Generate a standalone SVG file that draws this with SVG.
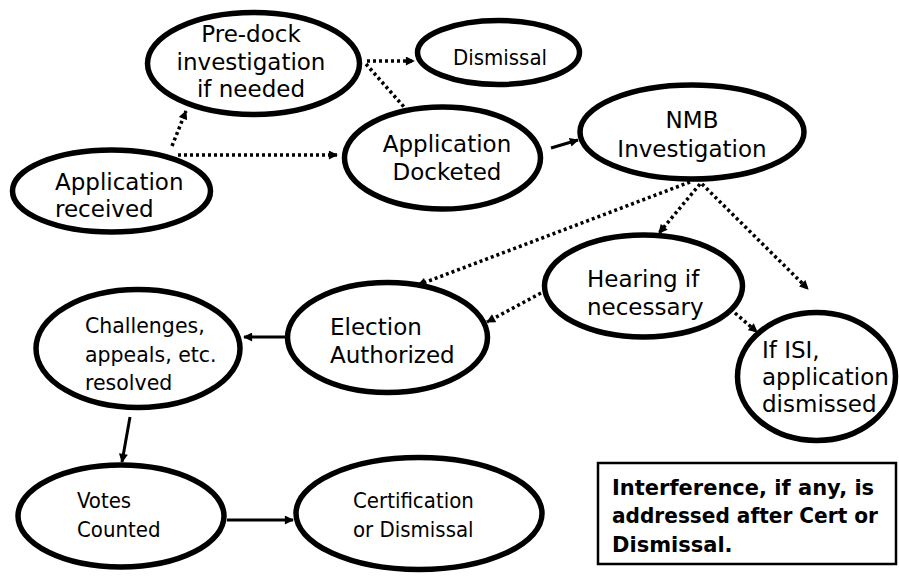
<svg xmlns="http://www.w3.org/2000/svg" width="899" height="576" viewBox="0 0 899 576">
<defs>
<style>
.node ellipse{fill:#fff;stroke:#000;stroke-width:5.5}
.t{font-family:"DejaVu Sans","Verdana",sans-serif;font-size:23px;fill:#000}
.tc{font-family:"DejaVu Sans","Verdana",sans-serif;font-stretch:condensed;font-size:22px;fill:#000}
.tb{font-family:"DejaVu Sans","Verdana",sans-serif;font-weight:bold;font-size:21px;fill:#000}
.dot{stroke:#000;stroke-width:3.5;stroke-dasharray:3 3;fill:none}
.sol{stroke:#000;stroke-width:3;fill:none}
</style>
<marker id="ah" viewBox="0 0 10 10" refX="9" refY="5" markerWidth="10" markerHeight="9" markerUnits="userSpaceOnUse" orient="auto">
<path d="M0,0 L10,5 L0,10 z" fill="#000"/>
</marker>
</defs>
<rect width="899" height="576" fill="#fff"/>
<g id="connectors">
<line class="dot" x1="172" y1="146" x2="186" y2="111" marker-end="url(#ah)"/>
<line class="dot" x1="178" y1="155" x2="337" y2="155" marker-end="url(#ah)"/>
<line class="dot" x1="367" y1="61" x2="414" y2="61" marker-end="url(#ah)"/>
<line class="dot" x1="366" y1="64" x2="404" y2="107"/>
<line class="sol" x1="551" y1="148" x2="578" y2="140" marker-end="url(#ah)"/>
<line class="dot" x1="690" y1="182" x2="418" y2="285" marker-end="url(#ah)"/>
<line class="dot" x1="700" y1="184" x2="659" y2="233" marker-end="url(#ah)"/>
<line class="dot" x1="702" y1="184" x2="808" y2="289" marker-end="url(#ah)"/>
<line class="dot" x1="541" y1="293" x2="487" y2="322" marker-end="url(#ah)"/>
<line class="dot" x1="735" y1="313" x2="757" y2="332" marker-end="url(#ah)"/>
<line class="sol" x1="285" y1="337" x2="244" y2="337" marker-end="url(#ah)"/>
<line class="sol" x1="130" y1="417" x2="122" y2="462" marker-end="url(#ah)"/>
<line class="sol" x1="227" y1="520" x2="293" y2="520" marker-end="url(#ah)"/>
</g>
<g id="received" class="node">
<ellipse cx="111.5" cy="191" rx="99" ry="41"/>
<text class="t" x="55" y="190">Application</text>
<text class="t" x="55" y="217">received</text>
</g>
<g id="predock" class="node">
<ellipse cx="253.5" cy="63.5" rx="106" ry="51"/>
<text class="t" x="251" y="42" text-anchor="middle">Pre-dock</text>
<text class="t" x="251" y="70" text-anchor="middle">investigation</text>
<text class="t" x="251" y="97" text-anchor="middle">if needed</text>
</g>
<g id="dismissal" class="node">
<ellipse cx="498.5" cy="52.5" rx="81" ry="32"/>
<text class="tc" x="500" y="65" text-anchor="middle">Dismissal</text>
</g>
<g id="docketed" class="node">
<ellipse cx="442.5" cy="158" rx="98" ry="51"/>
<text class="t" x="447" y="152" text-anchor="middle">Application</text>
<text class="t" x="447" y="180" text-anchor="middle">Docketed</text>
</g>
<g id="nmb" class="node">
<ellipse cx="692" cy="132" rx="112" ry="47"/>
<text class="t" x="692" y="128" text-anchor="middle">NMB</text>
<text class="t" x="692" y="157" text-anchor="middle">Investigation</text>
</g>
<g id="hearing" class="node">
<ellipse cx="643.5" cy="286" rx="99" ry="51"/>
<text class="t" x="587" y="287">Hearing if</text>
<text class="t" x="587" y="315">necessary</text>
</g>
<g id="election" class="node">
<ellipse cx="387.5" cy="337.5" rx="100" ry="55"/>
<text class="t" x="330" y="335">Election</text>
<text class="t" x="330" y="363">Authorized</text>
</g>
<g id="challenges" class="node">
<ellipse cx="138" cy="348.5" rx="102" ry="59"/>
<text class="t" x="85" y="333" style="font-size:20.5px">Challenges,</text>
<text class="t" x="85" y="362" style="font-size:20.5px">appeals, etc.</text>
<text class="t" x="85" y="390" style="font-size:20.5px">resolved</text>
</g>
<g id="isi" class="node">
<ellipse cx="816.5" cy="376.5" rx="79" ry="64"/>
<text class="t" x="762" y="358">If ISI,</text>
<text class="t" x="762" y="385">application</text>
<text class="t" x="762" y="412">dismissed</text>
</g>
<g id="votes" class="node">
<ellipse cx="121" cy="516" rx="103" ry="51"/>
<text class="tc" x="77" y="508">Votes</text>
<text class="tc" x="77" y="537">Counted</text>
</g>
<g id="cert" class="node">
<ellipse cx="419" cy="513.5" rx="123" ry="56"/>
<text class="tc" x="353" y="508">Certification</text>
<text class="tc" x="353" y="537">or Dismissal</text>
</g>
<g id="note">
<rect x="598" y="463" width="298" height="101" fill="#fff" stroke="#000" stroke-width="2.5"/>
<text class="tb" x="612" y="495">Interference, if any, is</text>
<text class="tb" x="612" y="523" textLength="266" lengthAdjust="spacingAndGlyphs">addressed after Cert or</text>
<text class="tb" x="612" y="552">Dismissal.</text>
</g>
</svg>
